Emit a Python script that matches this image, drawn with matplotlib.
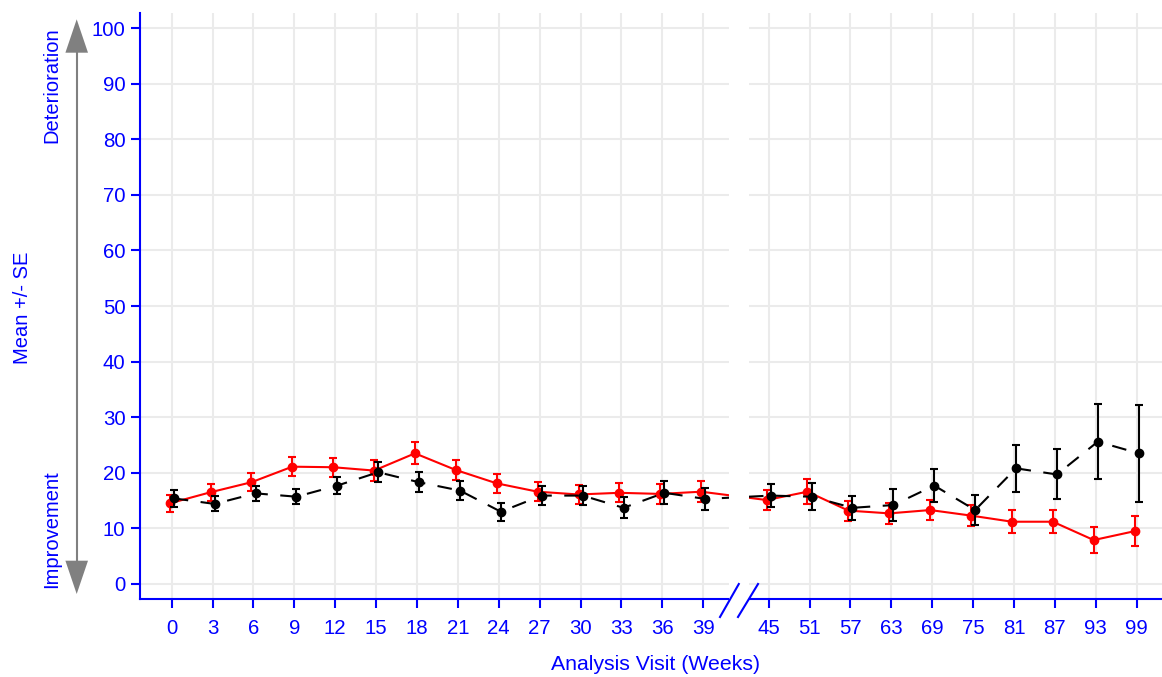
import matplotlib
matplotlib.use("Agg")
import matplotlib.pyplot as plt
from matplotlib.patches import Polygon, Rectangle
from matplotlib.lines import Line2D
import matplotlib.transforms as mtransforms

plt.rcParams['font.family'] = ['Liberation Sans', 'DejaVu Sans']

# ---- data ----
weeks = [0, 3, 6, 9, 12, 15, 18, 21, 24, 27, 30, 33, 36, 39,
         45, 51, 57, 63, 69, 75, 81, 87, 93, 99]
red_mean = [14.5, 16.5, 18.3, 21.1, 21.0, 20.4, 23.5, 20.5, 18.1, 16.6, 16.1, 16.4, 16.2, 16.6,
            15.1, 16.6, 13.2, 12.7, 13.3, 12.3, 11.2, 11.2, 7.9, 9.5]
red_se = [1.5, 1.5, 1.6, 1.75, 1.7, 1.9, 1.95, 1.8, 1.7, 1.75, 1.65, 1.7, 1.85, 1.85,
          1.8, 2.3, 1.8, 1.85, 1.75, 1.95, 2.1, 2.1, 2.4, 2.65]
black_mean = [15.4, 14.4, 16.3, 15.7, 17.7, 20.1, 18.3, 16.8, 13.0, 15.9, 15.9, 13.7, 16.4, 15.3,
              15.9, 15.7, 13.7, 14.2, 17.7, 13.3, 20.8, 19.7, 25.6, 23.5]
black_se = [1.5, 1.35, 1.35, 1.35, 1.5, 1.8, 1.8, 1.7, 1.65, 1.65, 1.75, 1.9, 2.1, 2.0,
            2.1, 2.45, 2.2, 2.9, 2.9, 2.7, 4.25, 4.5, 6.75, 8.7]
yticks = [0, 10, 20, 30, 40, 50, 60, 70, 80, 90, 100]

# layout positions (first segment index, second segment after axis break)
n1 = sum(1 for w in weeks if w <= 39)
pos = [float(i) for i in range(n1)] + [n1 + 0.6 + i for i in range(len(weeks) - n1)]
dodge = 0.05

BLUE = '#0000ff'
W, H = 1162, 677
fig = plt.figure(figsize=(W / 100, H / 100), dpi=100)
ax_left, ax_right, ax_top, ax_bot = 140, 1162, 13, 599
ax = fig.add_axes([ax_left / W, 1 - ax_bot / H, (ax_right - ax_left) / W, (ax_bot - ax_top) / H])

ax.set_xlim(-0.775, 24.22)
ax.set_ylim(-2.7, 102.7)
ax.set_axisbelow(True)
ax.grid(True, color='#ebebeb', linewidth=1.5)

ax.errorbar([p - dodge for p in pos], red_mean, yerr=red_se, color='red', lw=1.5,
            marker='o', ms=6, capsize=3, capthick=1.5, elinewidth=1.5, zorder=2)
eb = ax.errorbar([p + dodge for p in pos], black_mean, yerr=black_se, color='black', lw=1.5,
                 marker='o', ms=6, capsize=3, capthick=1.5, elinewidth=1.5, zorder=2.2,
                 ls='--')
eb[0].set_dashes((7, 6))

ax.set_xticks(pos)
ax.set_xticklabels([str(w) for w in weeks])
ax.set_yticks(yticks)
ax.tick_params(axis='both', colors=BLUE, labelcolor=BLUE, labelsize=14.7,
               direction='out', length=6.5, width=1.5)
ax.tick_params(axis='x', pad=8)
ax.tick_params(axis='y', pad=4)
for s in ['top', 'right']:
    ax.spines[s].set_visible(False)
for s in ['left', 'bottom']:
    ax.spines[s].set_color(BLUE)
    ax.spines[s].set_linewidth(1.5)

# axis break
trans = mtransforms.blended_transform_factory(ax.transData, ax.transAxes)
ax.add_patch(Rectangle((13.63, -0.01), 14.12 - 13.63, 1.02, transform=trans,
                       facecolor='white', edgecolor='none', zorder=3, clip_on=False))
for x0, x1 in [(13.41, 13.87), (13.85, 14.34)]:
    ax.add_line(Line2D([x0, x1], [-0.0307, 0.0256], transform=trans, color=BLUE,
                       lw=1.5, clip_on=False, zorder=4))

# left annotations
def fx(px):
    return px / W

def fy(py):
    return 1 - py / H

ax_x = 76.7
fig.add_artist(Line2D([fx(ax_x), fx(ax_x)], [fy(45), fy(570)], color='#808080', lw=1.5))
hw = 11.3
fig.add_artist(Polygon([(fx(ax_x), fy(19.3)), (fx(ax_x - hw), fy(52.7)), (fx(ax_x + hw), fy(52.7))],
                       closed=True, facecolor='#808080', edgecolor='none'))
fig.add_artist(Polygon([(fx(ax_x), fy(594)), (fx(ax_x - hw), fy(560.7)), (fx(ax_x + hw), fy(560.7))],
                       closed=True, facecolor='#808080', edgecolor='none'))

fig.text(fx(52), fy(85), 'Deterioration', rotation=90, ha='center', va='center',
         color=BLUE, fontsize=14.5)
fig.text(fx(52), fy(529.5), 'Improvement', rotation=90, ha='center', va='center',
         color=BLUE, fontsize=14.5)
fig.text(fx(23), fy(308), 'Mean +/- SE', rotation=90, ha='center', va='center',
         color=BLUE, fontsize=14.5)
fig.text(fx(656), fy(665), 'Analysis Visit (Weeks)', ha='center', va='center',
         color=BLUE, fontsize=15.3)

fig.savefig('out.png', dpi=100)
